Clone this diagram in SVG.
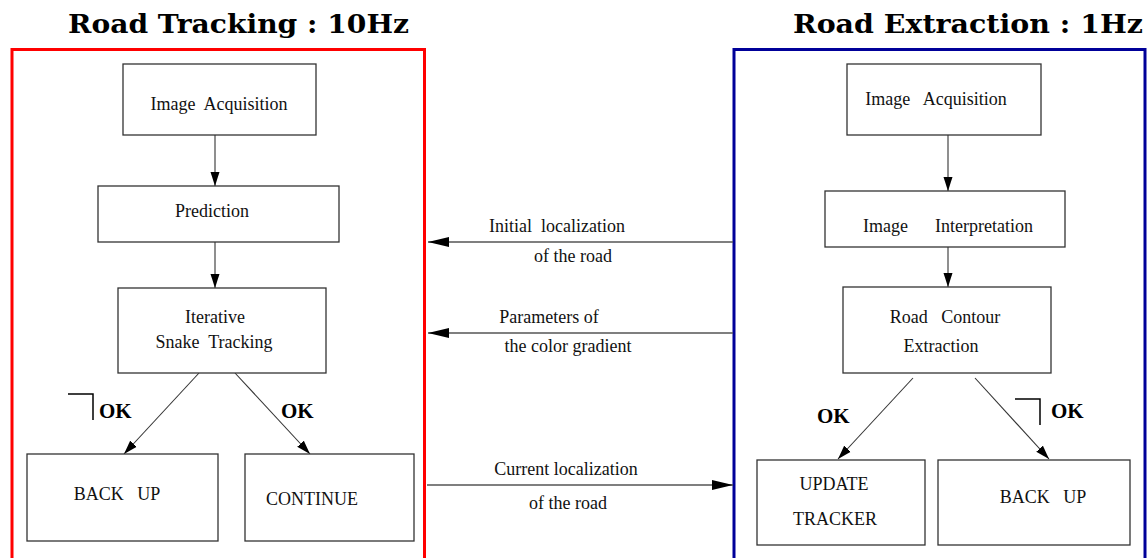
<svg xmlns="http://www.w3.org/2000/svg" width="1147" height="558" viewBox="0 0 1147 558">
<style>
.t{font-family:"Liberation Serif","Times New Roman",serif;font-size:18px;fill:#111;white-space:pre;}
.m{text-anchor:middle;}
.title{font-family:"DejaVu Serif","Liberation Serif",serif;font-weight:bold;font-size:26px;fill:#000;}
.ok{font-family:"Liberation Serif","Times New Roman",serif;font-weight:bold;font-size:21px;fill:#000;}
.box{fill:#fff;stroke:#333;stroke-width:1.3;}
.c{stroke:#333;stroke-width:1.1;fill:none;}
.c2{stroke:#555;stroke-width:1.4;fill:none;}
.neg{stroke:#000;stroke-width:1.5;fill:none;}
</style>
<defs>
<marker id="ah" markerUnits="userSpaceOnUse" markerWidth="15" markerHeight="10" refX="14" refY="5" orient="auto">
<path d="M0,0.5 L14,5 L0,9.5 z" fill="#000"/>
</marker>
<marker id="ahb" markerUnits="userSpaceOnUse" markerWidth="22" markerHeight="12" refX="21" refY="6" orient="auto">
<path d="M0,1 L21,6 L0,11 z" fill="#000"/>
</marker>
</defs>
<rect width="1147" height="558" fill="#fff"/>

<g id="frames">
<rect x="12" y="49.5" width="412.5" height="530" fill="none" stroke="#ff0000" stroke-width="3"/>
<rect x="734" y="49.5" width="411" height="530" fill="none" stroke="#000099" stroke-width="3"/>
<text class="title" x="68" y="33" textLength="341" lengthAdjust="spacingAndGlyphs">Road Tracking : 10Hz</text>
<text class="title" x="793" y="33" textLength="350" lengthAdjust="spacingAndGlyphs">Road Extraction : 1Hz</text>
</g>

<g id="connectors">
<line class="c" x1="215" y1="135" x2="215" y2="186" marker-end="url(#ah)"/>
<line class="c" x1="215" y1="242" x2="215" y2="288" marker-end="url(#ah)"/>
<line class="c" x1="199" y1="373" x2="124" y2="454" marker-end="url(#ah)"/>
<line class="c" x1="235" y1="373" x2="310" y2="454" marker-end="url(#ah)"/>
<line class="c" x1="948" y1="135" x2="948" y2="191" marker-end="url(#ah)"/>
<line class="c" x1="948" y1="247" x2="948" y2="287" marker-end="url(#ah)"/>
<line class="c" x1="913" y1="378" x2="838" y2="459" marker-end="url(#ah)"/>
<line class="c" x1="975" y1="378" x2="1049" y2="459" marker-end="url(#ah)"/>
<line class="c2" x1="733" y1="242" x2="428" y2="242" marker-end="url(#ahb)"/>
<line class="c2" x1="733" y1="333" x2="428" y2="333" marker-end="url(#ahb)"/>
<line class="c2" x1="427" y1="485" x2="733" y2="485" marker-end="url(#ahb)"/>
<text class="t m" x="557" y="232">Initial  localization</text>
<text class="t m" x="573" y="262">of the road</text>
<text class="t m" x="549" y="323">Parameters of</text>
<text class="t m" x="568" y="352">the color gradient</text>
<text class="t m" x="566" y="475">Current localization</text>
<text class="t m" x="568" y="509">of the road</text>
<path class="neg" d="M68,394 H93 V420"/>
<text class="ok" x="99" y="418">OK</text>
<text class="ok" x="281" y="418">OK</text>
<text class="ok" x="817" y="423">OK</text>
<path class="neg" d="M1015,399 H1040 V425"/>
<text class="ok" x="1051" y="418">OK</text>
</g>

<g id="l-acq">
<rect class="box" x="123" y="64" width="193" height="71"/>
<text class="t m" x="219" y="110">Image  Acquisition</text>
</g>
<g id="l-pred">
<rect class="box" x="98" y="186" width="241" height="56"/>
<text class="t m" x="212" y="217">Prediction</text>
</g>
<g id="l-snake">
<rect class="box" x="118" y="288" width="208" height="85"/>
<text class="t m" x="215" y="323">Iterative</text>
<text class="t m" x="214" y="348">Snake  Tracking</text>
</g>
<g id="l-backup">
<rect class="box" x="27" y="454" width="191" height="87"/>
<text class="t m" x="117" y="500">BACK   UP</text>
</g>
<g id="l-continue">
<rect class="box" x="245" y="454" width="169" height="87"/>
<text class="t m" x="312" y="505">CONTINUE</text>
</g>

<g id="r-acq">
<rect class="box" x="847" y="64" width="194" height="71"/>
<text class="t m" x="936" y="105">Image   Acquisition</text>
</g>
<g id="r-interp">
<rect class="box" x="825" y="191" width="240" height="56"/>
<text class="t"><tspan x="863" y="232">Image</tspan><tspan x="1033" y="232" text-anchor="end">Interpretation</tspan></text>
</g>
<g id="r-contour">
<rect class="box" x="843" y="287" width="208" height="86"/>
<text class="t m" x="945" y="323">Road   Contour</text>
<text class="t m" x="941" y="352">Extraction</text>
</g>
<g id="r-update">
<rect class="box" x="757" y="460" width="168" height="85"/>
<text class="t m" x="834" y="490">UPDATE</text>
<text class="t m" x="835" y="525">TRACKER</text>
</g>
<g id="r-backup">
<rect class="box" x="938" y="460" width="192" height="85"/>
<text class="t m" x="1043" y="503">BACK   UP</text>
</g>
</svg>
